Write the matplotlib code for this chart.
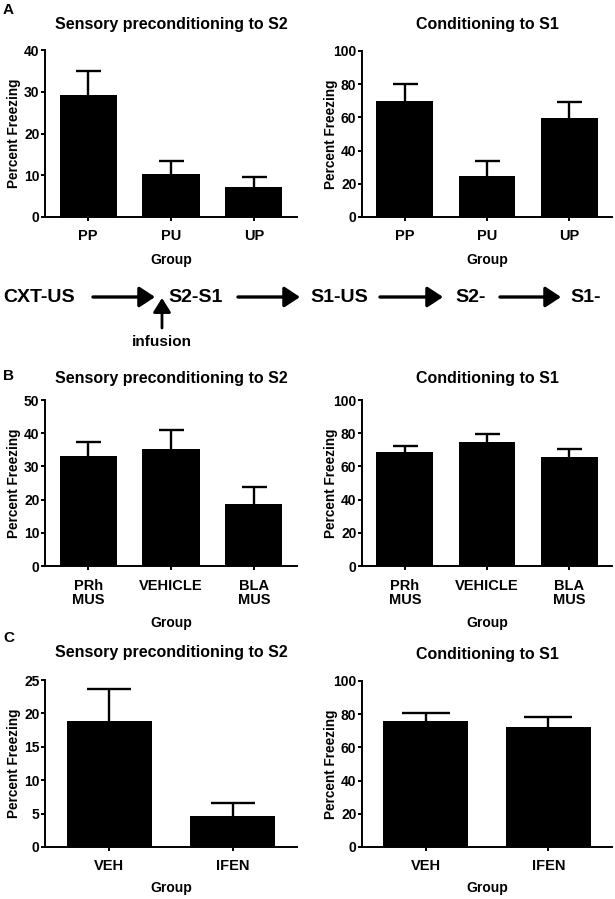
import matplotlib
matplotlib.use('Agg')
import matplotlib.pyplot as plt
import numpy as np

W, H = 615, 899

# A: S2 / S1 test, PP PU UP groups
a_groups = ['PP', 'PU', 'UP']
a_s2 = [29.3, 10.3, 7.2]
a_s2_err = [5.7, 3.1, 2.5]
a_s1 = [70.0, 25.0, 59.5]
a_s1_err = [10.0, 8.5, 9.5]

# B: muscimol infusions
b_groups = ['PRh\nMUS', 'VEHICLE', 'BLA\nMUS']
b_s2 = [33.0, 35.2, 18.8]
b_s2_err = [4.5, 5.8, 4.9]
b_s1 = [68.5, 75.0, 65.5]
b_s1_err = [3.5, 4.5, 5.0]

# C: ifenprodil
c_groups = ['VEH', 'IFEN']
c_s2 = [18.9, 4.6]
c_s2_err = [4.7, 2.0]
c_s1 = [75.8, 72.3]
c_s1_err = [5.2, 6.2]

# diagram steps
steps = ['CXT-US', 'S2-S1', 'S1-US', 'S2-', 'S1-']

plt.rcParams['font.family'] = ['Liberation Sans', 'DejaVu Sans']
plt.rcParams['font.weight'] = 'bold'

fig = plt.figure(figsize=(W / 100, H / 100), dpi=100)


def fy(y):
    # top-based pixel y -> figure fraction
    return 1 - y / H


def px_axes(left, top, right, bottom):
    return fig.add_axes([left / W, fy(bottom), (right - left) / W, (bottom - top) / H])


def bar_panel(left, top, right, bottom, title, title_y, groups, vals, errs,
              ymax, ystep, capsize, group_y):
    ax = px_axes(left, top, right, bottom)
    x = np.arange(len(groups))
    ax.bar(x, vals, width=0.69, color='black', zorder=2)
    eb = ax.errorbar(x, vals, yerr=[np.zeros(len(vals)), errs], fmt='none',
                     ecolor='black', elinewidth=1.7, capsize=capsize,
                     capthick=1.7, zorder=1)
    eb[1][0].set_visible(False)  # no lower cap
    ax.set_xlim(-0.52, len(groups) - 0.48)
    ax.set_ylim(0, ymax)
    ax.set_yticks(np.arange(0, ymax + 1, ystep))
    ax.set_xticks(x)
    ax.set_xticklabels(groups, fontsize=10.5, fontweight='bold', linespacing=1.05)
    for lab in ax.get_yticklabels():
        lab.set_fontsize(10)
        lab.set_fontweight('bold')
    for s in ['top', 'right']:
        ax.spines[s].set_visible(False)
    for s in ['left', 'bottom']:
        ax.spines[s].set_linewidth(1.4)
    ax.tick_params(axis='y', length=3, width=1.4, pad=1)
    ax.tick_params(axis='x', length=3, width=1.4, pad=6)
    cx = (left + right) / 2
    fig.text(cx / W, fy(title_y), title, ha='center', va='center',
             fontsize=11.5, fontweight='bold')
    fig.text(cx / W, fy(group_y), 'Group', ha='center', va='center',
             fontsize=10, fontweight='bold')
    fig.text((left - 31) / W, fy((top + bottom) / 2), 'Percent Freezing',
             rotation=90, ha='center', va='center', fontsize=9.8,
             fontweight='bold')
    return ax


# row A
bar_panel(45, 50, 297, 217, 'Sensory preconditioning to S2', 25, a_groups,
          a_s2, a_s2_err, 40, 10, 9, 260)
bar_panel(362, 51, 612, 217, 'Conditioning to S1', 25, a_groups,
          a_s1, a_s1_err, 100, 20, 9, 260)

# row B
bar_panel(45, 400, 297, 566, 'Sensory preconditioning to S2', 378, b_groups,
          b_s2, b_s2_err, 50, 10, 9, 623)
bar_panel(362, 400, 612, 566, 'Conditioning to S1', 378, b_groups,
          b_s1, b_s1_err, 100, 20, 9, 623)

# row C
bar_panel(45, 680, 297, 847, 'Sensory preconditioning to S2', 653, c_groups,
          c_s2, c_s2_err, 25, 5, 16, 888)
bar_panel(362, 681, 612, 847, 'Conditioning to S1', 655, c_groups,
          c_s1, c_s1_err, 100, 20, 17, 888)

# panel letters
for letter, ly in [('A', 10), ('B', 376), ('C', 638)]:
    fig.text(3 / W, fy(ly), letter, ha='left', va='center', fontsize=11,
             fontweight='bold')

# procedure diagram
row_y = 297
text_x = [3, 168, 310, 455, 570]
arrows = [(93, 155), (238, 300), (380, 443), (500, 561)]
for s, tx in zip(steps, text_x):
    fig.text(tx / W, fy(row_y), s, ha='left', va='center', fontsize=14,
             fontweight='bold')
astyle = dict(arrowstyle='-|>,head_length=0.47,head_width=0.31', lw=2.4,
              color='black', mutation_scale=20, shrinkA=0, shrinkB=0)
for x1, x2 in arrows:
    fig.add_artist(matplotlib.patches.FancyArrowPatch(
        (x1 / W, fy(row_y)), (x2 / W, fy(row_y)),
        transform=fig.transFigure, **astyle))
upstyle = dict(arrowstyle='-|>,head_length=0.43,head_width=0.27', lw=2.0,
               color='black', mutation_scale=20, shrinkA=0, shrinkB=0)
fig.add_artist(matplotlib.patches.FancyArrowPatch(
    (162 / W, fy(328)), (162 / W, fy(298)),
    transform=fig.transFigure, **upstyle))
fig.text(162 / W, fy(342), 'infusion', ha='center', va='center', fontsize=11,
         fontweight='bold')

fig.savefig('out.png', dpi=100)
